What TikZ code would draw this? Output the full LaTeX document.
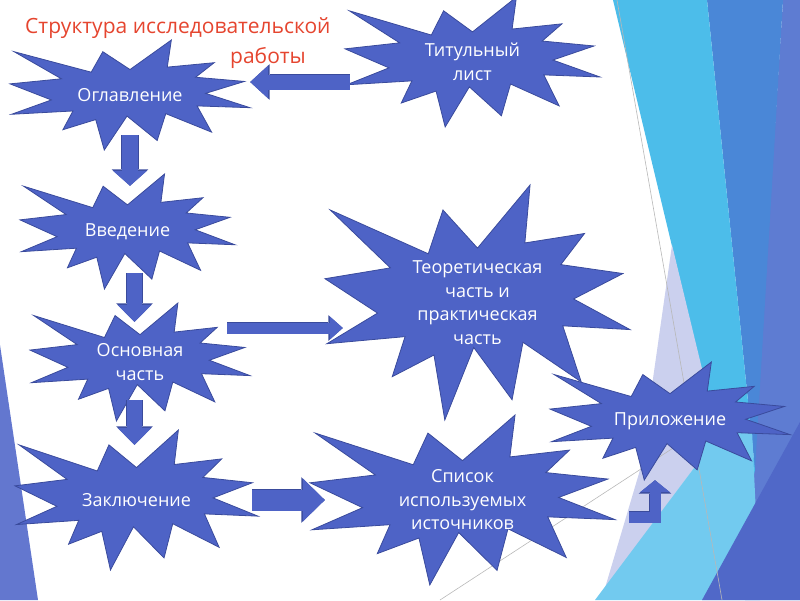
\documentclass[tikz,border=0pt]{standalone}
\usepackage{fontspec}
\setmainfont{Open Sans}
\usetikzlibrary{arrows.meta,positioning}
\definecolor{SlideStar}{HTML}{4E63C6}
\definecolor{SlideStarEdge}{HTML}{3A4B9C}
\definecolor{SlideTitle}{HTML}{E5452F}
\definecolor{FacetCyan}{HTML}{4CBDEA}
\definecolor{FacetLightCyan}{HTML}{72CAEF}
\definecolor{FacetBlue}{HTML}{4A87D7}
\definecolor{FacetSlate}{HTML}{5E7CD2}
\definecolor{FacetDeep}{HTML}{5068C8}
\definecolor{FacetLavender}{HTML}{CBD0EE}
\definecolor{FacetLeft}{HTML}{6377CF}
\definecolor{FacetLine}{HTML}{B8B8B8}
% Explosion outline, in percent of its box
\newcommand\explosionpath{(50,26.85) -- (67.23,0) -- (65.53,24.65) -- (85.09,20.63) -- (77.32,33.87) -- (97.67,37.67) -- (81.51,48.50) -- (100,61.53) -- (77.95,59.92) -- (84.00,83.77) -- (64.91,66.93) -- (61.33,91.38) -- (48.76,69.14) -- (39.28,100) -- (35.72,72.35) -- (22.05,81.56) -- (26.24,64.52) -- (0.63,67.53) -- (17.23,54.51) -- (0,39.88) -- (21.42,35.26) -- (1.71,10.63) -- (33.85,29.26) -- (38.67,10.63) -- cycle}
\tikzset{
    % Explosion outline
    burstline/.style={
        draw=SlideStarEdge,
        fill=SlideStar,
        line width=0.8pt,
        line join=miter
    },
    % Text box of an explosion
    burstnode/.style={
        rectangle,
        inner sep=0pt,
        text=white,
        align=center,
        font=\fontsize{18}{23.5}\selectfont
    },
    % Block arrow: shaft, head length, head width
    blockarrow/.style n args={3}{
        draw=SlideStar,
        line width=#1,
        line join=miter,
        -{Triangle[length=#2,width=#3,line width=0pt]},
        preaction={
            draw=SlideStarEdge,
            line width=#1+1.2pt,
            -{Triangle[length=#2+1.4pt,width=#3+2.6pt,line width=0pt]}
        }
    },
    % Slide title
    titlenode/.style={
        text=SlideTitle,
        align=left,
        inner sep=0pt,
        font=\fontsize{21}{30}\selectfont
    }
}
\begin{document}
\begin{tikzpicture}[x=1pt,y=-1pt]
    \useasboundingbox (0,0) rectangle (800,600);

    % Theme background
    \fill[FacetLeft] (0,345) -- (38,600) -- (0,600) -- cycle;
    \fill[FacetSlate] (783,0) -- (800,0) -- (800,600) -- (745,600) -- cycle;
    \fill[FacetBlue] (707,0) -- (783,0) -- (755,470) -- cycle;
    \fill[FacetCyan] (613,0) -- (707,0) -- (755,470) -- (740,530) -- cycle;
    \fill[FacetLavender] (672,245) -- (712,410) -- (700,460) -- (605,588) -- (640,470) -- cycle;
    \fill[FacetLightCyan] (595,600) -- (700,460) -- (712,410) -- (752,430) -- (760,600) -- cycle;
    \fill[FacetDeep] (702,600) -- (800,422) -- (800,600) -- cycle;
    \draw[FacetLine, line width=0.6pt] (617,0) -- (722,600);
    \draw[FacetLine, line width=0.6pt] (440,600) -- (690,437);

    % Title
    \node[titlenode, anchor=north west] (title) at (25,17) {Структура исследовательской\\\hspace*{205pt}работы};

    % Parts of the work: name/x/y/width/height/text
    \foreach \nm/\cx/\cy/\w/\h/\txt in {
        ogl/130/95/240/110/{Оглавление},
        tit/472.5/62/255/130/{Титульный\\лист},
        vved/127.5/231.5/215/115/{Введение},
        teor/477.5/302.5/305/235/{Теоретическая\\часть и\\практическая\\часть},
        osn/140/362/220/118/{Основная\\часть},
        zakl/136.5/500/243/140/{Заключение},
        spis/462.5/500/305/170/{Список\\используемых\\источников},
        pril/670/421/240/118/{Приложение}} {
        \draw[burstline, shift={(\cx-\w/2,\cy-\h/2)}, xscale=\w/100, yscale=\h/100] \explosionpath;
        \node[burstnode, minimum width=\w pt, minimum height=\h pt] (\nm) at (\cx,\cy) {\txt};
    }

    % Arrows
    \coordinate (titout) at ([xshift=5pt,yshift=-20pt]tit.west);
    \draw[blockarrow={15pt}{18pt}{33pt}] (titout) -- (titout -| ogl.east);
    \draw[blockarrow={16pt}{15pt}{34pt}] ([yshift=15pt]ogl.south) -- ([xshift=2.5pt,yshift=-12pt]vved.north);
    \draw[blockarrow={15pt}{17pt}{34pt}] ([xshift=7pt,yshift=16pt]vved.south) -- ([xshift=-5.5pt,yshift=-19pt]osn.north);
    \draw[blockarrow={15pt}{17pt}{34pt}] ([xshift=-5.5pt,yshift=21pt]osn.south) -- ([xshift=-2pt,yshift=-15pt]zakl.north);
    \draw[blockarrow={11pt}{13pt}{23pt}] ([xshift=-23pt,yshift=34pt]osn.east) -- ([xshift=18pt,yshift=-25.5pt]teor.west);
    \draw[blockarrow={21pt}{22pt}{43pt}] ([xshift=-6pt]zakl.east) -- ([xshift=15pt]spis.west);
    \draw[blockarrow={11pt}{12pt}{30pt}] ([xshift=14pt,yshift=-17pt]spis.east) -| ([xshift=-15pt]pril.south);
\end{tikzpicture}
\end{document}
